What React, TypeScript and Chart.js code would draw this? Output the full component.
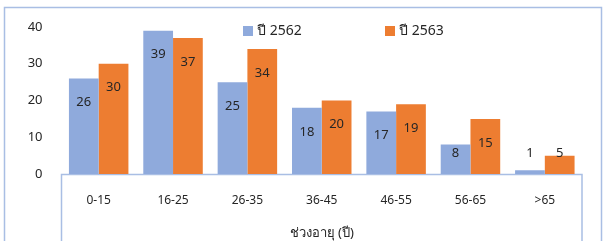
import React, { useEffect, useRef } from "react";
import { Chart, registerables } from "chart.js";

Chart.register(...registerables);

const categories = ["0-15", "16-25", "26-35", "36-45", "46-55", "56-65", ">65"];
const series2562 = [26, 39, 25, 18, 17, 8, 1];
const series2563 = [30, 37, 34, 20, 19, 15, 5];
const seriesLabels = ["ปี 2562", "ปี 2563"];
const seriesColors = ["#8FAADC", "#ED7D31"];
const yMin = 0;
const yMax = 40;
const yStep = 10;
const xTitle = "ช่วงอายุ (ปี)";

const FONT = '"Noto Sans", "DejaVu Sans", sans-serif';
const TEXT = "#262626";
const FRAME = "#A9BEE4";

const framePlugin = {
  id: "framePlugin",
  beforeDraw(chart: any) {
    const { ctx, chartArea, width, height } = chart;
    ctx.save();
    ctx.fillStyle = "#ffffff";
    ctx.fillRect(0, 0, width, height);
    ctx.strokeStyle = FRAME;
    ctx.lineWidth = 1.5;
    ctx.strokeRect(4.5, 7.5, width - 6, height + 10);
    ctx.lineWidth = 1.5;
    ctx.beginPath();
    ctx.moveTo(chartArea.left, height + 2);
    ctx.lineTo(chartArea.left, chartArea.bottom + 0.5);
    ctx.lineTo(chartArea.right, chartArea.bottom + 0.5);
    ctx.lineTo(chartArea.right, height + 2);
    ctx.stroke();
    ctx.restore();
  },
};

const valueLabelPlugin = {
  id: "valueLabelPlugin",
  afterDatasetsDraw(chart: any) {
    const { ctx } = chart;
    ctx.save();
    ctx.font = `13px ${FONT}`;
    ctx.fillStyle = TEXT;
    ctx.textAlign = "center";
    ctx.textBaseline = "middle";
    chart.data.datasets.forEach((ds: any, di: number) => {
      const meta = chart.getDatasetMeta(di);
      meta.data.forEach((el: any, i: number) => {
        const y = Math.min(el.y + 24, el.base - 21);
        ctx.fillText(String(ds.data[i]), el.x, y);
      });
    });
    ctx.restore();
  },
};

const legendX = [243, 385];
const legendY = 31;
const legendPlugin = {
  id: "legendPlugin",
  afterDraw(chart: any) {
    const { ctx } = chart;
    ctx.save();
    ctx.font = `14px ${FONT}`;
    ctx.textBaseline = "middle";
    ctx.textAlign = "left";
    chart.data.datasets.forEach((ds: any, di: number) => {
      const x = legendX[di];
      ctx.fillStyle = ds.backgroundColor;
      ctx.fillRect(x, legendY - 5, 10, 10);
      ctx.fillStyle = TEXT;
      ctx.fillText(ds.label, x + 14, legendY);
    });
    ctx.restore();
  },
};

export default function App() {
  const ref = useRef<HTMLCanvasElement | null>(null);
  useEffect(() => {
    document.body.style.margin = "0";
    if (!ref.current) return;
    const chart = new Chart(ref.current, {
      type: "bar",
      data: {
        labels: categories,
        datasets: [
          { label: seriesLabels[0], data: series2562, backgroundColor: seriesColors[0] },
          { label: seriesLabels[1], data: series2563, backgroundColor: seriesColors[1] },
        ],
      },
      options: {
        animation: false,
        responsive: false,
        maintainAspectRatio: false,
        devicePixelRatio: 1,
        layout: { padding: { top: 27, right: 21, left: 0, bottom: 0 } },
        datasets: { bar: { categoryPercentage: 0.8, barPercentage: 1.0 } },
        plugins: { legend: { display: false }, tooltip: { enabled: false } },
        scales: {
          x: {
            grid: { display: false, drawTicks: false },
            border: { display: false },
            ticks: { color: TEXT, font: { family: FONT, size: 12 }, padding: 19, maxRotation: 0 },
            title: {
              display: true,
              text: xTitle,
              color: TEXT,
              font: { family: FONT, size: 13 },
              padding: { top: 4, bottom: 0 },
            },
            afterFit(scale: any) {
              scale.height = 67;
            },
          },
          y: {
            min: yMin,
            max: yMax,
            grid: { display: false, drawTicks: false },
            border: { display: false },
            ticks: { stepSize: yStep, color: TEXT, font: { family: FONT, size: 13 }, padding: 19 },
            afterFit(scale: any) {
              scale.width = 61.5;
            },
          },
        },
      },
      plugins: [framePlugin, valueLabelPlugin, legendPlugin],
    });
    return () => chart.destroy();
  }, []);
  return (
    <div style={{ position: "absolute", left: 0, top: 0, width: 603, height: 241 }}>
      <canvas ref={ref} width={603} height={241} style={{ width: 603, height: 241 }} />
    </div>
  );
}
